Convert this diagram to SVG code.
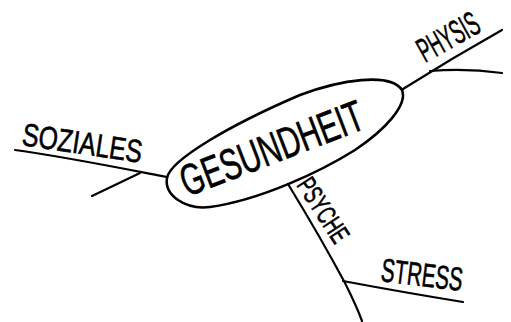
<svg xmlns="http://www.w3.org/2000/svg" width="511" height="322" viewBox="0 0 511 322">
<style>
.ln{fill:none;stroke:#000;stroke-width:2.2;stroke-linecap:round;stroke-linejoin:round}
.el{fill:none;stroke:#000;stroke-width:2.6}
.t{font-family:"Liberation Sans",Arial,sans-serif;fill:#000;stroke:#000;stroke-width:0.6}
</style>
<rect width="511" height="322" fill="#fff"/>
<g id="connectors">
<path class="ln" d="M15,150 C60,156 110,166 167,177"/>
<path class="ln" d="M140,173 L92,196"/>
<path class="ln" d="M403,89 C430,72 470,48 502,30"/>
<path class="ln" d="M430,71 C455,69 480,70 502,73"/>
<path class="ln" d="M288,184 C310,220 330,255 345,283 C352,297 358,310 362,321"/>
<path class="ln" d="M343,281 C380,288 420,295 463,302"/>
</g>
<g id="gesundheit">
<path class="el" d="M167,178 C170,160 230,125 300,95 C340,80 390,72 402,90 C408,105 385,130 355,150 C320,172 260,200 210,207 C185,210 164,195 167,178 Z"/>
<text class="t" font-size="44" transform="translate(187,197) rotate(-21)" textLength="193" lengthAdjust="spacingAndGlyphs">GESUNDHEIT</text>
</g>
<g id="soziales">
<text class="t" font-size="32" transform="translate(21,145) rotate(8.5)" textLength="121" lengthAdjust="spacingAndGlyphs">SOZIALES</text>
</g>
<g id="physis">
<text class="t" font-size="34" transform="translate(425,63) rotate(-29)" textLength="66" lengthAdjust="spacingAndGlyphs">PHYSIS</text>
</g>
<g id="psyche">
<text class="t" font-size="27" transform="translate(296,185) rotate(57)" textLength="72" lengthAdjust="spacingAndGlyphs">PSYCHE</text>
</g>
<g id="stress">
<text class="t" font-size="33" transform="translate(380,281) rotate(7)" textLength="82" lengthAdjust="spacingAndGlyphs">STRESS</text>
</g>
</svg>
